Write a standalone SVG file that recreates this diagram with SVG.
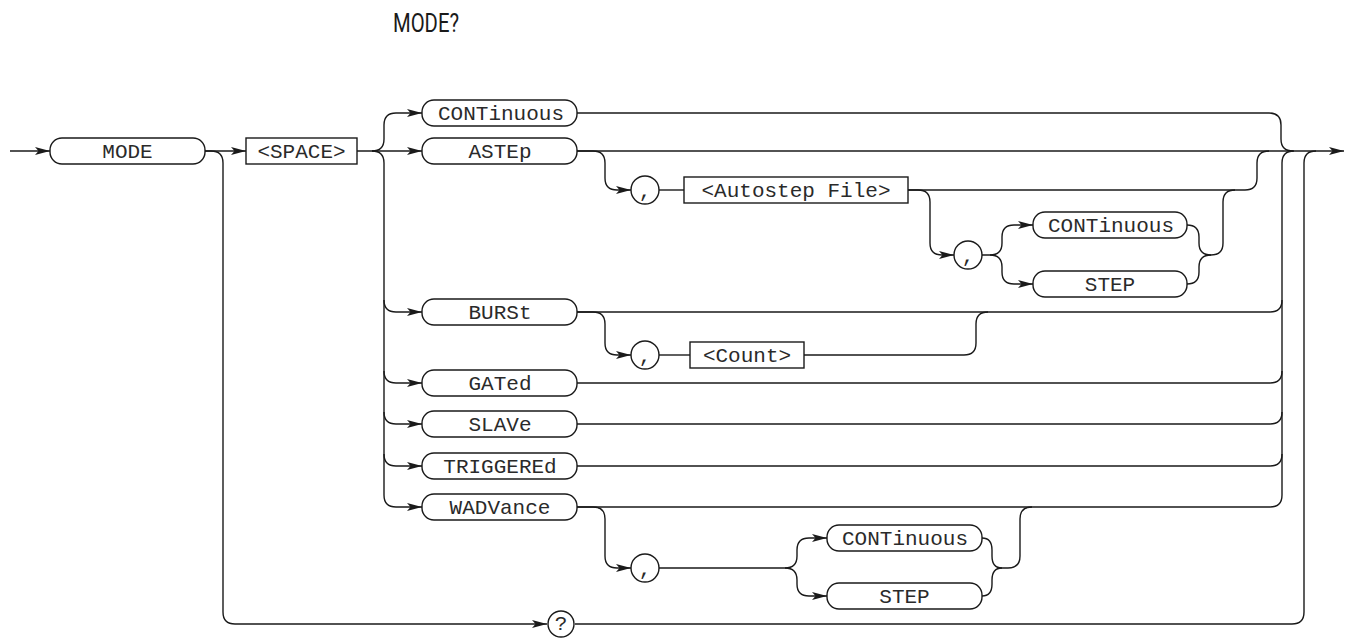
<svg xmlns="http://www.w3.org/2000/svg" width="1345" height="638" viewBox="0 0 1345 638">
<defs>
<marker id="arr" markerWidth="16" markerHeight="9" refX="15" refY="4.5" orient="auto" markerUnits="userSpaceOnUse"><path d="M0,0.5 L15,4.5 L0,8.5 L3.5,4.5 z" fill="#1a1a1a"/></marker>
</defs>
<style>
.c{fill:none;stroke:#1a1a1a;stroke-width:1.4}
.a{marker-end:url(#arr)}
.n{fill:#fff;stroke:#1a1a1a;stroke-width:1.4}
.t{font-family:"Liberation Mono",monospace;font-size:21px;fill:#2a2a2a;text-anchor:middle}
.h{font-family:Roboto,"Liberation Sans",sans-serif;font-size:25px;fill:#1a1a1a}
</style>
<rect width="1345" height="638" fill="#fff"/>
<text class="h" x="393" y="32" textLength="66" lengthAdjust="spacingAndGlyphs">MODE?</text>
<g id="connectors">
<path class="c a" d="M10,151 H50"/>
<path class="c a" d="M205,151 H246"/>
<path class="c a" d="M357,151 H422"/>
<path class="c a" d="M372,151 q12,0 12,-12 v-14 q0,-12 12,-12 H422"/>
<path class="c a" d="M372,151 q12,0 12,12 V495 q0,12 12,12 H422"/>
<path class="c a" d="M384,300 q0,12 12,12 H422"/>
<path class="c a" d="M384,371 q0,12 12,12 H422"/>
<path class="c a" d="M384,412 q0,12 12,12 H422"/>
<path class="c a" d="M384,454 q0,12 12,12 H422"/>
<path class="c" d="M577,113 H1269 q12,0 12,12 v14 q0,12 12,12"/>
<path class="c a" d="M577,151 H1344"/>
<path class="c a" d="M577,151 h16 q12,0 12,12 v15 q0,12 12,12 H631"/>
<path class="c" d="M659,190 H684"/>
<path class="c" d="M908,190 H1245 q12,0 12,-12 v-15 q0,-12 12,-12"/>
<path class="c a" d="M908,190 h10 q12,0 12,12 v41 q0,12 12,12 H954"/>
<path class="c a" d="M982,255 h8 q12,0 12,-12 v-6 q0,-12 12,-12 H1033"/>
<path class="c a" d="M990,255 q12,0 12,12 v5 q0,12 12,12 H1033"/>
<path class="c" d="M1187,225 q12,0 12,12 v6 q0,12 12,12"/>
<path class="c" d="M1187,284 q12,0 12,-12 v-5 q0,-12 12,-12"/>
<path class="c" d="M1211,255 q12,0 12,-12 v-41 q0,-12 12,-12"/>
<path class="c" d="M577,507 H1270 q12,0 12,-12 V163 q0,-12 12,-12"/>
<path class="c" d="M577,312 H1270 q12,0 12,-12"/>
<path class="c" d="M577,383 H1270 q12,0 12,-12"/>
<path class="c" d="M577,424 H1270 q12,0 12,-12"/>
<path class="c" d="M577,466 H1270 q12,0 12,-12"/>
<path class="c a" d="M577,312 h16 q12,0 12,12 v19 q0,12 12,12 H631"/>
<path class="c" d="M659,355 H690"/>
<path class="c" d="M804,355 H964 q12,0 12,-12 v-19 q0,-12 12,-12"/>
<path class="c a" d="M577,507 h16 q12,0 12,12 v37 q0,12 12,12 H631"/>
<path class="c a" d="M659,568 H785 q12,0 12,-12 v-6 q0,-12 12,-12 H827"/>
<path class="c a" d="M785,568 q12,0 12,12 v4 q0,12 12,12 H827"/>
<path class="c" d="M982,538 q10,0 10,12 v6 q0,12 10,12"/>
<path class="c" d="M982,596 q10,0 10,-12 v-4 q0,-12 10,-12"/>
<path class="c" d="M1002,568 h6 q12,0 12,-12 v-37 q0,-12 12,-12"/>
<path class="c a" d="M205,151 h6 q12,0 12,12 V612 q0,12 12,12 H547"/>
<path class="c" d="M575,624 H1292 q12,0 12,-12 V163 q0,-12 12,-12"/>
</g>
<g id="n-mode"><rect class="n" x="50" y="138" width="155" height="26" rx="12"/><text class="t" x="127.5" y="158">MODE</text></g>
<g id="n-space"><rect class="n" x="246" y="138" width="111" height="26"/><text class="t" x="301.5" y="158">&lt;SPACE&gt;</text></g>
<g id="n-cont"><rect class="n" x="422" y="100" width="155" height="26" rx="12"/><text class="t" x="501" y="120">CONTinuous</text></g>
<g id="n-astep"><rect class="n" x="422" y="138" width="155" height="26" rx="12"/><text class="t" x="500" y="158">ASTEp</text></g>
<g id="n-comma1"><circle class="n" cx="645" cy="190" r="14"/><text class="t" x="645" y="197">,</text></g>
<g id="n-autostep"><rect class="n" x="684" y="177" width="224" height="26"/><text class="t" x="796" y="197">&lt;Autostep File&gt;</text></g>
<g id="n-comma2"><circle class="n" cx="968" cy="255" r="14"/><text class="t" x="968" y="262">,</text></g>
<g id="n-cont2"><rect class="n" x="1033" y="212" width="154" height="26" rx="12"/><text class="t" x="1111" y="232">CONTinuous</text></g>
<g id="n-step2"><rect class="n" x="1033" y="271" width="154" height="26" rx="12"/><text class="t" x="1110" y="291">STEP</text></g>
<g id="n-burst"><rect class="n" x="422" y="299" width="155" height="26" rx="12"/><text class="t" x="500" y="319">BURSt</text></g>
<g id="n-comma3"><circle class="n" cx="645" cy="355" r="14"/><text class="t" x="645" y="362">,</text></g>
<g id="n-count"><rect class="n" x="690" y="342" width="114" height="26"/><text class="t" x="747" y="362">&lt;Count&gt;</text></g>
<g id="n-gated"><rect class="n" x="422" y="370" width="155" height="26" rx="12"/><text class="t" x="500" y="390">GATed</text></g>
<g id="n-slave"><rect class="n" x="422" y="411" width="155" height="26" rx="12"/><text class="t" x="500" y="431">SLAVe</text></g>
<g id="n-trig"><rect class="n" x="422" y="453" width="155" height="26" rx="12"/><text class="t" x="500" y="473">TRIGGEREd</text></g>
<g id="n-wadv"><rect class="n" x="422" y="494" width="155" height="26" rx="12"/><text class="t" x="500" y="514">WADVance</text></g>
<g id="n-comma4"><circle class="n" cx="645" cy="568" r="14"/><text class="t" x="645" y="575">,</text></g>
<g id="n-cont3"><rect class="n" x="827" y="525" width="155" height="26" rx="12"/><text class="t" x="905" y="545">CONTinuous</text></g>
<g id="n-step3"><rect class="n" x="827" y="583" width="155" height="26" rx="12"/><text class="t" x="904.5" y="603">STEP</text></g>
<g id="n-query"><circle class="n" cx="561" cy="624" r="13"/><text class="t" x="561" y="630">?</text></g>
</svg>
